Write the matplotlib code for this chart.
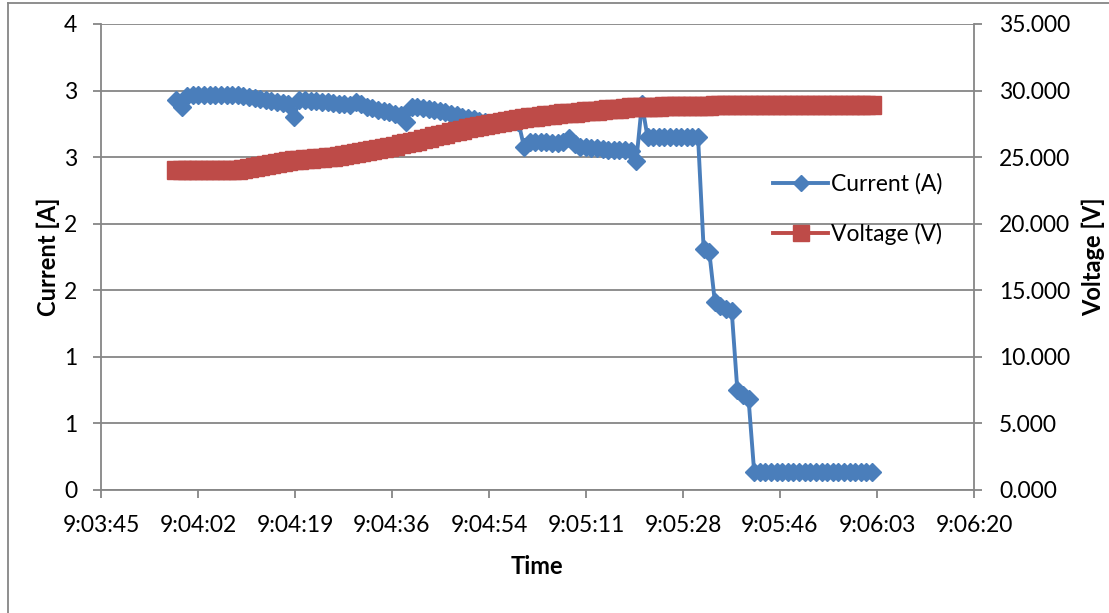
import numpy as np
import matplotlib.pyplot as plt
from matplotlib.lines import Line2D

# dados (uma amostra por segundo)
start_time = "9:03:58"
sample_period_s = 1

current_a = [
    2.929, 2.877, 2.959, 2.967, 2.967, 2.967, 2.967, 2.967, 2.967, 2.967,
    2.967, 2.967, 2.959, 2.952, 2.944, 2.937, 2.929, 2.922, 2.914, 2.907,
    2.899, 2.801, 2.929, 2.929, 2.922, 2.922, 2.914, 2.914, 2.907, 2.899,
    2.899, 2.892, 2.914, 2.899, 2.877, 2.869, 2.854, 2.847, 2.839, 2.824,
    2.817, 2.764, 2.877, 2.877, 2.869, 2.862, 2.854, 2.847, 2.839, 2.824,
    2.817, 2.801, 2.794, 2.786, 2.771, 2.764, 2.756, 2.756, 2.764, 2.764,
    2.771, 2.764, 2.576, 2.614, 2.614, 2.614, 2.614, 2.606, 2.606, 2.614,
    2.644, 2.599, 2.576, 2.576, 2.569, 2.569, 2.561, 2.554, 2.554, 2.554,
    2.554, 2.546, 2.471, 2.900, 2.651, 2.651, 2.651, 2.651, 2.651, 2.651,
    2.651, 2.651, 2.651, 2.651, 1.810, 1.788, 1.412, 1.382, 1.359, 1.344,
    0.751, 0.714, 0.683, 0.135, 0.135, 0.135, 0.135, 0.135, 0.135, 0.135,
    0.135, 0.135, 0.135, 0.135, 0.135, 0.135, 0.135, 0.135, 0.135, 0.135,
    0.135, 0.135, 0.135, 0.135, 0.135,
]

voltage_v = [
    24.03, 24.03, 24.03, 24.03, 24.03, 24.03, 24.03, 24.03, 24.03, 24.03,
    24.03, 24.03, 24.11, 24.19, 24.26, 24.34, 24.41, 24.49, 24.56, 24.64,
    24.71, 24.79, 24.79, 24.86, 24.86, 24.94, 24.94, 25.01, 25.01, 25.09,
    25.16, 25.24, 25.31, 25.39, 25.46, 25.54, 25.61, 25.69, 25.76, 25.84,
    25.99, 26.06, 26.14, 26.21, 26.36, 26.44, 26.59, 26.66, 26.74, 26.89,
    26.96, 27.04, 27.19, 27.26, 27.34, 27.41, 27.49, 27.56, 27.64, 27.71,
    27.79, 27.86, 27.94, 27.98, 28.02, 28.09, 28.17, 28.20, 28.24, 28.28,
    28.32, 28.35, 28.39, 28.43, 28.47, 28.50, 28.54, 28.58, 28.62, 28.65,
    28.69, 28.73, 28.77, 28.77, 28.78, 28.79, 28.80, 28.81, 28.82, 28.83,
    28.84, 28.85, 28.86, 28.86, 28.87, 28.87, 28.88, 28.88, 28.89, 28.89,
    28.90, 28.90, 28.91, 28.91, 28.91, 28.92, 28.92, 28.92, 28.92, 28.93,
    28.93, 28.93, 28.93, 28.93, 28.94, 28.94, 28.94, 28.94, 28.94, 28.95,
    28.95, 28.95, 28.95, 28.95, 28.95,
]

# eixo x do Excel: 0.3776 a 0.3794 dia, passo 0.0002 dia
x_min_day = 0.3776
x_max_day = 0.3794
x_step_day = 0.0002
time_labels = ["9:03:45", "9:04:02", "9:04:19", "9:04:36", "9:04:54",
               "9:05:11", "9:05:28", "9:05:46", "9:06:03", "9:06:20"]

current_ticks = [0, 0.5, 1, 1.5, 2, 2.5, 3, 3.5]
current_tick_labels = ["0", "1", "1", "2", "2", "3", "3", "4"]
voltage_ticks = [0, 5, 10, 15, 20, 25, 30, 35]


def to_seconds(hms):
    h, m, s = [int(p) for p in hms.split(":")]
    return h * 3600 + m * 60 + s


t0 = to_seconds(start_time)
t = t0 + sample_period_s * np.arange(len(current_a))

plt.rcParams['font.family'] = ['Lato', 'DejaVu Sans']
FS = 16.5
BLUE = '#4A7EBB'
RED = '#BE4B48'
GRAY = '#868686'

fig = plt.figure(figsize=(11.09, 6.13), dpi=100)
ax = fig.add_axes([101 / 1109, 1 - 490 / 613, (974 - 101) / 1109, (490 - 24) / 613])
ax2 = ax.twinx()

ax.plot(t, current_a, color=BLUE, lw=2.8, marker='D', ms=9.3,
        mfc=BLUE, mec=BLUE, label='Current (A)')
ax2.plot(t, voltage_v, color=RED, lw=2.8, marker='s', ms=13.5,
         mfc=RED, mec=RED, label='Voltage (V)')

ax.set_xlim(x_min_day * 86400, x_max_day * 86400)
xt = x_min_day * 86400 + x_step_day * 86400 * np.arange(len(time_labels))
ax.set_xticks(xt)
ax.set_xticklabels(time_labels)

ax.set_ylim(0, 3.5)
ax.set_yticks(current_ticks)
ax.set_yticklabels(current_tick_labels)
ax2.set_ylim(0, 35)
ax2.set_yticks(voltage_ticks)
ax2.set_yticklabels(["%.3f" % v for v in voltage_ticks])

ax.grid(axis='y', color=GRAY, lw=1.3)
ax.set_axisbelow(True)

for a in (ax, ax2):
    a.spines['top'].set_visible(False)
    for side in ('left', 'right', 'bottom'):
        a.spines[side].set_color(GRAY)
        a.spines[side].set_linewidth(1.3)
ax.spines['right'].set_visible(False)
ax2.spines['left'].set_visible(False)
ax2.spines['bottom'].set_visible(False)

ax.tick_params(axis='both', colors=GRAY, labelcolor='black', labelsize=FS,
               length=6, width=1.3, direction='out')
ax.tick_params(axis='y', pad=11)
ax.tick_params(axis='x', pad=12)
ax2.tick_params(axis='y', colors=GRAY, labelcolor='black', labelsize=FS,
                length=6, width=1.3, direction='out', pad=12)

# titulos dos eixos
fig.text(48 / 1109, 1 - 257 / 613, 'Current [A]', fontsize=17, fontweight='bold',
         rotation=90, ha='center', va='center')
fig.text(1093 / 1109, 1 - 257 / 613, 'Voltage [V]', fontsize=17, fontweight='bold',
         rotation=90, ha='center', va='center')
fig.text(537 / 1109, 1 - 566 / 613, 'Time', fontsize=17, fontweight='bold',
         ha='center', va='center')

handles = [
    Line2D([], [], color=BLUE, lw=2.8, marker='D', ms=8, mfc=BLUE, mec=BLUE),
    Line2D([], [], color=RED, lw=2.8, marker='s', ms=11, mfc=RED, mec=RED),
]
fig.legend(handles, ['Current (A)', 'Voltage (V)'], loc='upper left',
           bbox_to_anchor=(762 / 1109, 1 - 162 / 613), frameon=False,
           fontsize=FS, handlelength=2.4, handletextpad=0.1,
           labelspacing=1.2, borderpad=0)

# borda do grafico
fig.add_artist(Line2D([8 / 1109, 8 / 1109], [0, 1 - 3 / 613],
                      transform=fig.transFigure, color=GRAY, lw=1.3))
fig.add_artist(Line2D([8 / 1109, 1], [1 - 3 / 613, 1 - 3 / 613],
                      transform=fig.transFigure, color=GRAY, lw=1.3))

fig.savefig('out.png', dpi=100)
